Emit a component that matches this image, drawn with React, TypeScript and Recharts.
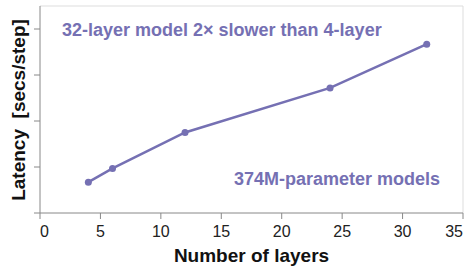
import { LineChart, Line, XAxis, YAxis, ReferenceLine, Customized } from "recharts";

// number of layers vs. latency (arbitrary units, y axis unlabeled)
const layers = [4, 6, 12, 24, 32];
const latency = [0.67, 0.97, 1.75, 2.72, 3.67];
const xTicks = [0, 5, 10, 15, 20, 25, 30, 35];
const yTicks = [0, 1, 2, 3, 4];

const data = layers.map((l, i) => ({ layers: l, latency: latency[i] }));

const PURPLE = "#7570b3";
const AXIS = "#888";
const FONT = '"Liberation Sans", Arial, sans-serif';

// first and last labels sit flush with the plot edges
function XTick({ x, y, payload, index }: any) {
  const anchor = index === 0 ? "start" : index === xTicks.length - 1 ? "end" : "middle";
  return (
    <text x={x} y={y} dy="0.71em" textAnchor={anchor} fontSize={16} fill="#222" fontFamily={FONT}>
      {payload.value}
    </text>
  );
}

// y axis keeps its tick marks but shows no numbers
const NoLabel = () => <g />;

function Texts() {
  return (
    <g fontFamily={FONT} fontWeight="bold">
      <text
        x={25}
        y={110}
        transform="rotate(-90 25 110)"
        textAnchor="middle"
        fontSize={19}
        fill="#111"
        style={{ whiteSpace: "pre" }}
      >
        {"Latency  [secs/step]"}
      </text>
      <text x={251.5} y={261.5} textAnchor="middle" fontSize={19} fill="#111">
        Number of layers
      </text>
      <text x={62} y={36} fontSize={18} fill={PURPLE}>
        32-layer model 2× slower than 4-layer
      </text>
      <text x={440} y={185} textAnchor="end" fontSize={18} fill={PURPLE}>
        374M-parameter models
      </text>
    </g>
  );
}

export default function App() {
  return (
    <div style={{ position: "absolute", left: 0, top: 0, background: "#fff" }}>
      <LineChart width={465} height={266} data={data} margin={{ top: 6, right: 2, bottom: 0, left: 0 }}>
        <ReferenceLine y={4.5} stroke="#ddd" />
        <ReferenceLine x={35} stroke="#ddd" />
        <XAxis
          dataKey="layers"
          type="number"
          domain={[0, 35]}
          ticks={xTicks}
          interval={0}
          height={53}
          tickSize={6}
          tickMargin={7}
          stroke={AXIS}
          tick={<XTick />}
        />
        <YAxis
          type="number"
          domain={[0, 4.5]}
          ticks={yTicks}
          interval={0}
          width={40}
          tickSize={6}
          stroke={AXIS}
          tick={<NoLabel />}
        />
        <Line
          dataKey="latency"
          stroke={PURPLE}
          strokeWidth={2.5}
          dot={{ r: 3.5, fill: PURPLE, stroke: PURPLE, strokeWidth: 0 }}
          isAnimationActive={false}
        />
        <Customized component={Texts} />
      </LineChart>
    </div>
  );
}
